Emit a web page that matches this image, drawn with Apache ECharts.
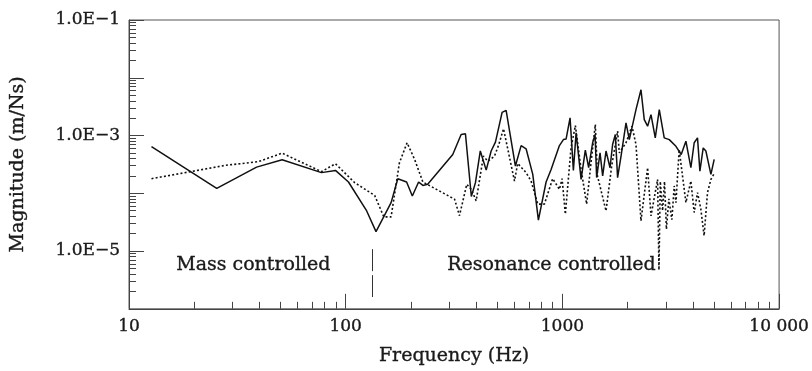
<!DOCTYPE html>
<html><head><meta charset="utf-8">
<script src="https://cdn.jsdelivr.net/npm/echarts@6/dist/echarts.min.js"></script>
<style>html,body{margin:0;padding:0;background:#fff}#c{width:812px;height:371px}</style>
</head><body><div id="c"></div>
<script>
// ---- data ----
const solidFreq = [12.7, 25.4, 38.8, 50.9, 77.3, 89.7, 103, 125, 138, 162,
  174, 191, 203, 217, 227, 239, 312, 341, 357, 380,
  397, 418, 445, 469, 491, 527, 550, 607, 645, 680,
  730, 775, 841, 887, 969, 1011, 1040, 1085, 1124, 1157,
  1220, 1276, 1322, 1379, 1415, 1439, 1492, 1534, 1590, 1659,
  1705, 1755, 1798, 1865, 1966, 2036, 2186, 2305, 2387, 2473,
  2564, 2683, 2800, 2951, 3113, 3342, 3535, 3715, 3917, 4057,
  4203, 4311, 4465, 4594, 4846, 5018];
const solidMag = [6.4e-4, 1.22e-4, 2.84e-4, 3.81e-4, 2.28e-4, 2.49e-4, 1.57e-4, 4.95e-5, 2.17e-5, 6.9e-5,
  1.79e-4, 1.57e-4, 9.0e-5, 1.57e-4, 1.37e-4, 1.43e-4, 4.7e-4, 1.04e-3, 1.07e-3, 8.8e-5,
  1.53e-4, 5.4e-4, 2.52e-4, 5.4e-4, 7.7e-4, 2.52e-3, 2.73e-3, 2.96e-4, 6.7e-4, 5.9e-4,
  2.13e-4, 3.42e-5, 1.57e-4, 2.59e-4, 6.7e-4, 8.5e-4, 8.7e-4, 2.02e-3, 2.49e-4, 1.11e-3,
  1.74e-4, 5.6e-4, 2.77e-4, 7.5e-4, 1.04e-3, 1.87e-4, 5.0e-4, 2.0e-4, 5.4e-4, 2.77e-4,
  7.0e-4, 1.04e-3, 1.87e-4, 4.4e-4, 1.66e-3, 8.5e-4, 2.81e-3, 6.2e-3, 1.89e-3, 1.45e-3,
  2.3e-3, 9.1e-4, 2.81e-3, 9.1e-4, 8.5e-4, 6.5e-4, 4.7e-4, 8.0e-4, 2.77e-4, 7.5e-4,
  9.1e-4, 2.42e-4, 6.1e-4, 5.4e-4, 2.13e-4, 3.86e-4];

const dottedFreq = [12.7, 27.7, 39.4, 50.9, 77.3, 89.7, 110, 136, 150, 162,
  177, 192, 208, 227, 318, 335, 362, 380, 400, 432,
  453, 486, 509, 535, 601, 622, 680, 717, 770, 826,
  902, 969, 997, 1032, 1096, 1148, 1220, 1294, 1356, 1419,
  1452, 1590, 1688, 1798, 1831, 1966, 2095, 2186, 2305, 2473,
  2564, 2750, 2790, 2830, 2900, 2960, 3020, 3100, 3200, 3282,
  3342, 3459, 3715, 3917, 4057, 4203, 4355, 4508, 4673, 4846, 5018];
const dottedMag = [1.79e-4, 3.04e-4, 3.52e-4, 4.95e-4, 2.37e-4, 3.25e-4, 1.53e-4, 9.2e-5, 3.9e-5, 3.9e-5,
  3.38e-4, 7.5e-4, 3.86e-4, 1.57e-4, 7.9e-5, 4.1e-5, 1.43e-4, 1.17e-4, 7.4e-5, 4.4e-4,
  3.6e-4, 4.4e-4, 7.0e-4, 1.31e-3, 1.63e-4, 3.29e-4, 2.28e-4, 1.63e-4, 6.5e-5, 6.5e-5,
  1.79e-4, 1.17e-4, 1.79e-4, 4.35e-5, 6.1e-4, 1.49e-3, 2.59e-4, 6.5e-5, 3.42e-4, 1.55e-3,
  2.0e-4, 4.95e-5, 2.96e-4, 1.19e-3, 5.0e-4, 7.5e-4, 1.45e-3, 7.0e-4, 3.33e-5, 2.77e-4,
  4.07e-5, 1.74e-4, 4.7e-6, 1.6e-4, 5.0e-5, 1.6e-4, 2.4e-5, 8.0e-5, 3.5e-5, 1.34e-4,
  6.9e-5, 5.7e-4, 6.9e-5, 1.63e-4, 4.65e-5, 1.03e-4, 5.3e-5, 1.84e-5, 1.03e-4, 1.74e-4, 2.2e-4];

const xDecades = [10, 100, 1000, 10000];
const xLabels = ['10', '100', '1000', '10 000'];
const yDecades = [1e-6, 1e-5, 1e-4, 1e-3, 1e-2, 1e-1];
const yLabelValues = [1e-5, 1e-3, 1e-1];
const yLabels = ['1.0E\u22125', '1.0E\u22123', '1.0E\u22121'];
const boundaryFreq = 133;
const boundaryRange = [1.08e-5, 1.6e-6];

function minorOf(decades) {
  const out = [];
  for (let i = 0; i < decades.length - 1; i++) for (let k = 2; k <= 9; k++) out.push(k * decades[i]);
  return out;
}

const FONT = 'DejaVu Serif';
const INK = '#1a1a1a';
const AX = '#444';
const heavy = {textBorderColor: INK, textBorderWidth: 0.35};

const chart = echarts.init(document.getElementById('c'), null, {renderer: 'canvas'});
const pairs = (xs, ys) => xs.map((x, i) => [x, ys[i]]);

chart.setOption({
  animation: false,
  backgroundColor: '#fff',
  grid: {left: 129, right: 32, top: 20, bottom: 61, show: true, borderColor: '#555', borderWidth: 1, backgroundColor: 'transparent'},
  xAxis: [
    {type: 'log', logBase: 10, min: 10, max: 10000,
     name: 'Frequency (Hz)', nameLocation: 'middle', nameGap: 38,
     nameTextStyle: Object.assign({fontFamily: FONT, fontSize: 19, color: INK}, heavy),
     axisLine: {show: true, lineStyle: {color: AX, width: 1}},
     axisTick: {show: true, inside: true, length: 15, lineStyle: {color: AX}, customValues: xDecades},
     axisLabel: Object.assign({show: true, margin: 9, fontFamily: FONT, fontSize: 17, color: INK,
       customValues: xDecades,
       formatter: v => { const i = xDecades.findIndex(d => Math.abs(Math.log10(d) - Math.log10(v)) < 1e-6); return i >= 0 ? xLabels[i] : ''; }}, heavy),
     splitLine: {show: false}, minorTick: {show: false}},
    {type: 'log', logBase: 10, min: 10, max: 10000, position: 'bottom',
     axisLine: {show: false},
     axisTick: {show: true, inside: true, length: 7, lineStyle: {color: AX}, customValues: minorOf(xDecades)},
     axisLabel: {show: false}, splitLine: {show: false}}
  ],
  yAxis: [
    {type: 'log', logBase: 10, min: 1e-6, max: 1e-1,
     name: 'Magnitude (m/Ns)', nameLocation: 'middle', nameGap: 101, nameRotate: 90,
     nameTextStyle: Object.assign({fontFamily: FONT, fontSize: 19, color: INK}, heavy),
     axisLine: {show: true, lineStyle: {color: AX, width: 1}},
     axisTick: {show: true, inside: true, length: 15, lineStyle: {color: AX}, customValues: yDecades},
     axisLabel: Object.assign({show: true, margin: 9, fontFamily: FONT, fontSize: 17, color: INK,
       customValues: yLabelValues,
       formatter: v => { const i = yLabelValues.findIndex(d => Math.abs(Math.log10(d) - Math.log10(v)) < 1e-6); return i >= 0 ? yLabels[i] : ''; }}, heavy),
     splitLine: {show: false}},
    {type: 'log', logBase: 10, min: 1e-6, max: 1e-1, position: 'left',
     axisLine: {show: false},
     axisTick: {show: true, inside: true, length: 7, lineStyle: {color: AX}, customValues: minorOf(yDecades)},
     axisLabel: {show: false}, splitLine: {show: false}}
  ],
  series: [
    {type: 'line', name: 'solid', data: pairs(solidFreq, solidMag), showSymbol: false, symbol: 'none',
     lineStyle: {color: '#111', width: 1.5, type: 'solid'}, z: 3,
     markLine: {silent: true, symbol: ['none', 'none'], label: {show: false},
       lineStyle: {color: '#333', width: 1, type: [22, 4]},
       data: [[{coord: [boundaryFreq, boundaryRange[0]]}, {coord: [boundaryFreq, boundaryRange[1]]}]]}},
    {type: 'line', name: 'dotted', data: pairs(dottedFreq, dottedMag), showSymbol: false, symbol: 'none',
     lineStyle: {color: '#111', width: 1.6, type: [2, 2.2]}, z: 2}
  ],
  graphic: [
    {type: 'text', left: 176, top: 255, style: Object.assign({text: 'Mass controlled', font: '19px "DejaVu Serif"', fill: INK, stroke: INK, lineWidth: 0.35})},
    {type: 'text', left: 447, top: 255, style: Object.assign({text: 'Resonance controlled', font: '19px "DejaVu Serif"', fill: INK, stroke: INK, lineWidth: 0.35})}
  ]
});
</script></body></html>
